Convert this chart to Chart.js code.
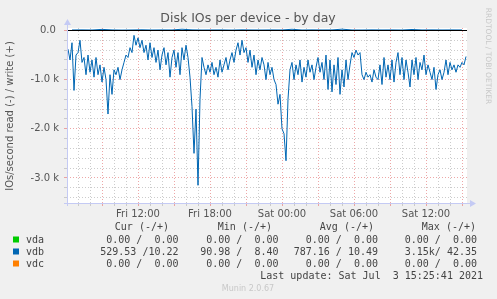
<!DOCTYPE html>
<html>
<head>
<meta charset="utf-8">
<script src="https://cdn.jsdelivr.net/npm/chart.js@4"></script>
<style>
  html, body { margin: 0; padding: 0; background: #f0f0f0; }
  canvas { display: block; }
</style>
</head>
<body>
<canvas id="chart" width="497" height="299"></canvas>
<script>
// time axis in minutes from Fri 00:00, samples every 10 min
let startMinute = 370;
let stepMinutes = 10;

// vdb read IOs/s (drawn negative)
let readValues = [
    380, 600, 250, 1220, 500, 450, 200, 650, 550, 900,
    500, 850, 600, 950, 550, 900, 700, 1050, 750, 1000,
    1700, 900, 1300, 800, 900, 750, 1000, 800, 650, 500,
    550, 350, 450, 100, 300, 150, 350, 200, 450, 300,
    600, 250, 550, 350, 650, 400, 800, 500, 350, 700,
    450, 950, 550, 400, 750, 450, 900, 350, 600, 300,
    550, 950, 1550, 2500, 1600, 3150, 1400, 550, 750, 900,
    700, 850, 650, 900, 750, 950, 600, 850, 700, 550,
    800, 600, 450, 650, 400, 250, 500, 200, 450, 350,
    650, 400, 750, 500, 900, 600, 800, 550, 700, 1000,
    650, 900, 750, 1000, 1100, 1500, 1300, 2000, 2100, 2650,
    1400, 800, 650, 1000, 700, 900, 600, 1050, 750, 950,
    600, 850, 700, 1000, 750, 550, 850, 650, 1000, 500,
    1200, 600, 1250, 700, 1100, 550, 1300, 800, 1150, 600,
    1000, 700, 450, 550, 400, 500, 450, 900, 1000, 850,
    950, 900, 1050, 800, 950, 1000, 700, 1100, 550, 950,
    700, 1000, 600, 1050, 650, 450, 900, 550, 1000, 600,
    850, 1150, 600, 900, 550, 1000, 650, 800, 500, 900,
    700, 850, 1000, 750, 1200, 900, 800, 1000, 850, 600,
    900, 650, 800, 700, 850, 700, 750, 650, 700, 530
];

// vdb write IOs/s, one value every 50 min
let writeStart = 390;
let writeStep = 50;
let writeValues = [
    10, 12, 9, 22, 11, 8, 10, 14, 9, 11,
    10, 25, 12, 9, 10, 11, 8, 13, 10, 9,
    11, 10, 24, 9, 12, 10, 11, 26, 10, 9,
    12, 10, 11, 9, 20, 10, 12, 10, 11, 10
];

let xMin = 365;
let xMax = 2365;
let yMin = -3510;
let yMax = 50;

let xLabels = { 720: "Fri 12:00", 1080: "Fri 18:00", 1440: "Sat 00:00", 1800: "Sat 06:00", 2160: "Sat 12:00" };
let yLabels = { 0: "0.0 ", "-1000": "-1.0 k", "-2000": "-2.0 k", "-3000": "-3.0 k" };

let legendHeaders = ["Cur (-/+)", "Min (-/+)", "Avg (-/+)", "Max (-/+)"];
let legendNames = ["vda", "vdb", "vdc"];
let legendColors = ["#00cc00", "#0066b3", "#ff8000"];
let legendRows = [
    ["0.00 /  0.00", "0.00 /  0.00", "0.00 /  0.00", "0.00 /  0.00"],
    ["529.53 /10.22", "90.98 /  8.40", "787.16 / 10.49", "3.15k/ 42.35"],
    ["0.00 /  0.00", "0.00 /  0.00", "0.00 /  0.00", "0.00 /  0.00"]
];

let readPoints = readValues.map((v, i) => ({ x: startMinute + i * stepMinutes, y: -v }));
let writePoints = writeValues.map((v, i) => ({ x: writeStart + i * writeStep, y: v }));

const gridRed = "rgba(230,130,130,0.7)";
const gridGray = "rgba(195,195,195,0.85)";
const axisBlue = "#c4caf4";

const munin = {
    id: "munin",
    beforeDraw(chart) {
        let c = chart.ctx;
        let a = chart.chartArea;
        c.save();
        c.fillStyle = "#f0f0f0";
        c.fillRect(0, 0, chart.width, chart.height);
        c.fillStyle = "#ffffff";
        c.fillRect(a.left, a.top, a.right - a.left, a.bottom - a.top);
        c.restore();
    },
    afterDatasetsDraw(chart) {
        let c = chart.ctx;
        let a = chart.chartArea;
        let y0 = Math.round(chart.scales.y.getPixelForValue(0)) + 0.5;
        c.save();
        c.strokeStyle = "#000";
        c.lineWidth = 1;
        c.beginPath();
        c.moveTo(a.left, y0);
        c.lineTo(a.right, y0);
        c.stroke();
        c.restore();
    },
    afterDraw(chart) {
        let c = chart.ctx;
        let a = chart.chartArea;
        c.save();

        // axes with arrows
        c.strokeStyle = axisBlue;
        c.fillStyle = axisBlue;
        c.lineWidth = 1;
        c.beginPath();
        c.moveTo(a.left + 0.5, a.bottom + 3);
        c.lineTo(a.left + 0.5, a.top - 4);
        c.moveTo(a.left - 3, a.bottom + 0.5);
        c.lineTo(a.right + 4, a.bottom + 0.5);
        c.stroke();
        c.beginPath();
        c.moveTo(a.left - 3, a.top - 3);
        c.lineTo(a.left + 4, a.top - 3);
        c.lineTo(a.left + 0.5, a.top - 9);
        c.closePath();
        c.fill();
        c.beginPath();
        c.moveTo(a.right + 3, a.bottom - 3);
        c.lineTo(a.right + 3, a.bottom + 4);
        c.lineTo(a.right + 9, a.bottom + 0.5);
        c.closePath();
        c.fill();

        // title
        c.fillStyle = "#555";
        c.font = "12.5px 'DejaVu Sans'";
        c.textAlign = "center";
        c.textBaseline = "middle";
        c.fillText("Disk IOs per device - by day", 248, 19);

        // y title
        c.save();
        c.translate(10, 116);
        c.rotate(-Math.PI / 2);
        c.font = "10px 'DejaVu Sans'";
        c.fillText("IOs/second read (-) / write (+)", 0, 0);
        c.restore();

        // rrdtool credit
        c.save();
        c.translate(488, 56);
        c.rotate(Math.PI / 2);
        c.fillStyle = "#c8c8c8";
        c.font = "7.5px 'DejaVu Sans'";
        c.fillText("RRDTOOL / TOBI OETIKER", 0, 0);
        c.restore();

        // legend
        c.font = "10px 'DejaVu Sans Mono'";
        c.fillStyle = "#444";
        c.textAlign = "right";
        let headEnds = [169, 272, 374, 476];
        let colEnds = [178.5, 278.5, 378, 477];
        legendHeaders.forEach((h, i) => c.fillText(h, headEnds[i], 227.5));
        let rowY = [240, 252, 264];
        legendRows.forEach((row, r) => {
            row.forEach((cell, i) => c.fillText(cell, colEnds[i], rowY[r]));
            c.fillStyle = legendColors[r];
            c.fillRect(13, rowY[r] - 3.5, 6, 6);
            c.fillStyle = "#444";
            c.textAlign = "left";
            c.fillText(legendNames[r], 26, rowY[r]);
            c.textAlign = "right";
        });
        c.fillText("Last update: Sat Jul  3 15:25:41 2021", 483, 276);

        c.textAlign = "center";
        c.fillStyle = "#c8c8c8";
        c.font = "8px 'DejaVu Sans'";
        c.fillText("Munin 2.0.67", 248, 289);

        c.restore();
    }
};

new Chart(document.getElementById("chart"), {
    type: "line",
    data: {
        datasets: [
            {
                label: "vdb read",
                data: readPoints,
                borderColor: "#0066b3",
                borderWidth: 1,
                pointRadius: 0,
                fill: false,
                tension: 0
            },
            {
                label: "vdb write",
                data: writePoints,
                borderColor: "#0066b3",
                borderWidth: 1,
                pointRadius: 0,
                fill: false,
                tension: 0
            }
        ]
    },
    options: {
        responsive: false,
        animation: false,
        layout: { padding: { left: 0, top: 28, right: 30, bottom: 0 } },
        plugins: {
            legend: { display: false },
            tooltip: { enabled: false }
        },
        scales: {
            x: {
                type: "linear",
                min: xMin,
                max: xMax,
                afterFit: s => { s.height = 96; },
                afterBuildTicks: s => {
                    let t = [];
                    for (let m = 420; m < xMax; m += 60) t.push({ value: m });
                    s.ticks = t;
                },
                ticks: {
                    autoSkip: false,
                    maxRotation: 0,
                    padding: 2,
                    color: "#555",
                    font: { family: "DejaVu Sans", size: 10 },
                    callback: v => xLabels[v] || ""
                },
                grid: {
                    color: ctx => (ctx.tick && ctx.tick.value % 180 === 0) ? gridRed : gridGray,
                    tickColor: ctx => (ctx.tick && ctx.tick.value % 180 === 0) ? gridRed : gridGray,
                    tickLength: 3,
                    lineWidth: 1
                },
                border: { display: false, dash: [1, 2] }
            },
            y: {
                min: yMin,
                max: yMax,
                afterFit: s => { s.width = 67; },
                afterBuildTicks: s => {
                    let t = [];
                    for (let v = -3400; v <= 0; v += 200) t.push({ value: v });
                    s.ticks = t;
                },
                ticks: {
                    autoSkip: false,
                    padding: 5,
                    color: "#555",
                    font: { family: "DejaVu Sans", size: 10 },
                    callback: v => yLabels[v] || ""
                },
                grid: {
                    color: ctx => (ctx.tick && ctx.tick.value % 1000 === 0) ? gridRed : gridGray,
                    tickColor: ctx => (ctx.tick && ctx.tick.value % 1000 === 0) ? gridRed : gridGray,
                    tickLength: 3,
                    lineWidth: 1
                },
                border: { display: false, dash: [1, 2] }
            }
        }
    },
    plugins: [munin]
});
</script>
</body>
</html>
